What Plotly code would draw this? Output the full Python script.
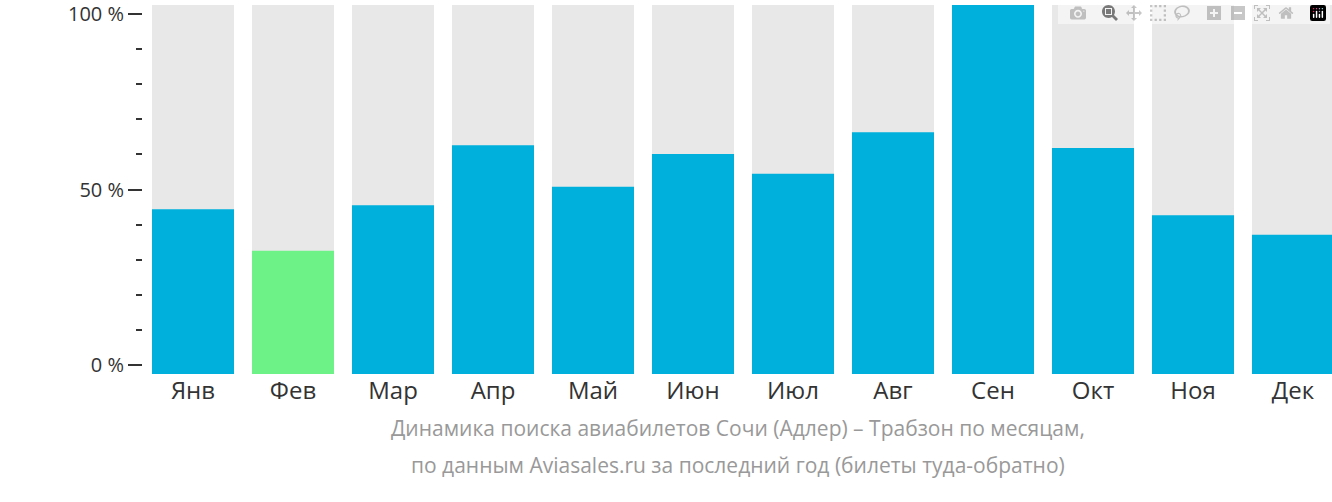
import plotly.graph_objects as go

months = ["Янв","Фев","Мар","Апр","Май","Июн","Июл","Авг","Сен","Окт","Ноя","Дек"]
values = [44.4, 32.6, 45.5, 62.6, 50.8, 60.1, 54.5, 66.3, 102.5, 61.8, 42.7, 37.1]
full = [102.5]*12
base = -2.5
colors = ["#6cf286" if m == "Фев" else "#00b0dc" for m in months]

fig = go.Figure()
fig.add_bar(x=months, y=[f - base for f in full], base=base, marker_color="#e8e8e8",
            marker_line_width=0, hoverinfo="skip")
fig.add_bar(x=months, y=[v - base for v in values], base=base, marker_color=colors,
            marker_line_width=0)
fig.update_layout(
    width=1332, height=502, barmode="overlay", bargap=0.18, showlegend=False,
    plot_bgcolor="white", paper_bgcolor="white",
    margin=dict(l=143, r=0, t=0, b=128),
    font=dict(family="Open Sans", color="#333"),
    xaxis=dict(range=[-0.5, 11.39], showgrid=False, showline=False, ticks="",
               tickfont=dict(size=24, color="#333"), fixedrange=True),
    yaxis=dict(range=[-2.5, 102.5], showgrid=False, zeroline=False, showline=False,
               tickvals=[0, 50, 100], ticktext=["0 %", "50 %", "100 %"],
               ticks="outside", ticklen=14, tickwidth=2, tickcolor="#333",
               ticklabeloverflow="allow",
               tickfont=dict(size=20, color="#333"),
               minor=dict(tickvals=[10,20,30,40,60,70,80,90], ticks="outside",
                          ticklen=6, tickwidth=2, tickcolor="#333")),
)
fig.add_annotation(text="Динамика поиска авиабилетов Сочи (Адлер) – Трабзон по месяцам,",
                   xref="paper", yref="paper", x=0.5, y=0, yshift=-70, showarrow=False,
                   font=dict(size=21, color="#999"), xanchor="center")
fig.add_annotation(text="по данным Aviasales.ru за последний год (билеты туда-обратно)",
                   xref="paper", yref="paper", x=0.5, y=0, yshift=-107, showarrow=False,
                   font=dict(size=21, color="#999"), xanchor="center")
fig.write_html("out.html", post_script="document.body.style.margin='0';")
